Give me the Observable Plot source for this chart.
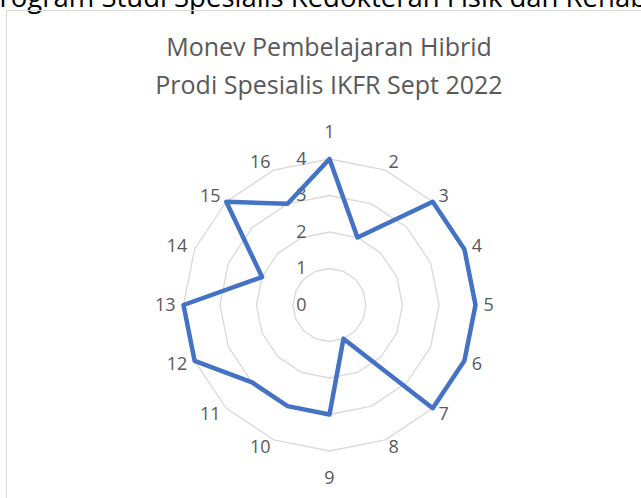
<!DOCTYPE html>
<html>
<head>
<meta charset="utf-8">
<script src="https://cdn.jsdelivr.net/npm/d3@7"></script>
<script src="https://cdn.jsdelivr.net/npm/@observablehq/plot@0.6"></script>
<style>
  html, body { margin: 0; padding: 0; width: 641px; height: 498px; overflow: hidden; background: #fff; }
  #top { position: absolute; left: -17px; top: -17px; font: 27.5px "Open Sans", sans-serif; line-height: 27.5px; color: #000; white-space: nowrap; }
  #box { position: absolute; left: 6px; top: 10px; width: 640px; height: 490px; border-left: 1.5px solid #d9d9d9; border-top: 1.5px solid #d9d9d9; }
  #title { position: absolute; left: 0; top: 27px; width: 658px; text-align: center; font: 25px "Open Sans", sans-serif; line-height: 38px; color: #595959; }
  #chart { position: absolute; left: 0; top: 110px; }
</style>
</head>
<body>
<div id="top">Program Studi Spesialis Kedokteran Fisik dan Rehabilitasi</div>
<div id="box"></div>
<div id="title">Monev Pembelajaran Hibrid<br>Prodi Spesialis IKFR Sept 2022</div>
<div id="chart"></div>
<script>
const axes = ["1","2","3","4","5","6","7","8","9","10","11","12","13","14","15","16"];
const values = [4,2,4,4,4,4,4,1,3,3,3,4,4,2,4,3];
const ringTicks = [0,1,2,3,4];
const maxValue = 4;

const W = 641, H = 388, cx = 329, cy = 194.5, unit = 36.5;
const n = axes.length;
const ang = i => i * 2 * Math.PI / n;

const series = axes.map((a, i) => ({axis: a, v: values[i], x: values[i] * Math.sin(ang(i)), y: values[i] * Math.cos(ang(i))}));
const rings = ringTicks.filter(t => t > 0).flatMap(t => axes.map((a, i) => ({ring: t, x: t * Math.sin(ang(i)), y: t * Math.cos(ang(i))})));
const labels = axes.map((a, i) => {
  const s = Math.sin(ang(i)), c = Math.cos(ang(i));
  const vertical = Math.abs(s) < 0.1;
  const r = maxValue + (vertical ? 27 : 8) / unit;
  return {axis: a, x: r * s, y: r * c, anchor: vertical ? "middle" : (s > 0 ? "start" : "end")};
});

const font = {fontSize: 18, fill: "#595959", fontFamily: "Open Sans"};
const chart = Plot.plot({
  width: W, height: H, margin: 0,
  style: {fontFamily: "Open Sans", background: "transparent"},
  x: {domain: [-cx / unit, (W - cx) / unit], axis: null},
  y: {domain: [-(H - cy) / unit, cy / unit], axis: null},
  marks: [
    Plot.line(rings, {x: "x", y: "y", z: "ring", curve: "linear-closed", stroke: "#d9d9d9", strokeWidth: 1.3}),
    Plot.text(ringTicks, {x: d => 0, y: d => d, dx: -23, text: d => String(d), textAnchor: "end", lineAnchor: "middle", ...font}),
    Plot.line(series, {x: "x", y: "y", curve: "linear-closed", stroke: "#4472C4", strokeWidth: 4.5, strokeLinejoin: "round"}),
    ...["start", "middle", "end"].map(an => Plot.text(labels.filter(d => d.anchor === an), {x: "x", y: "y", text: "axis", textAnchor: an, lineAnchor: "middle", ...font}))
  ]
});
document.getElementById("chart").appendChild(chart);
</script>
</body>
</html>
